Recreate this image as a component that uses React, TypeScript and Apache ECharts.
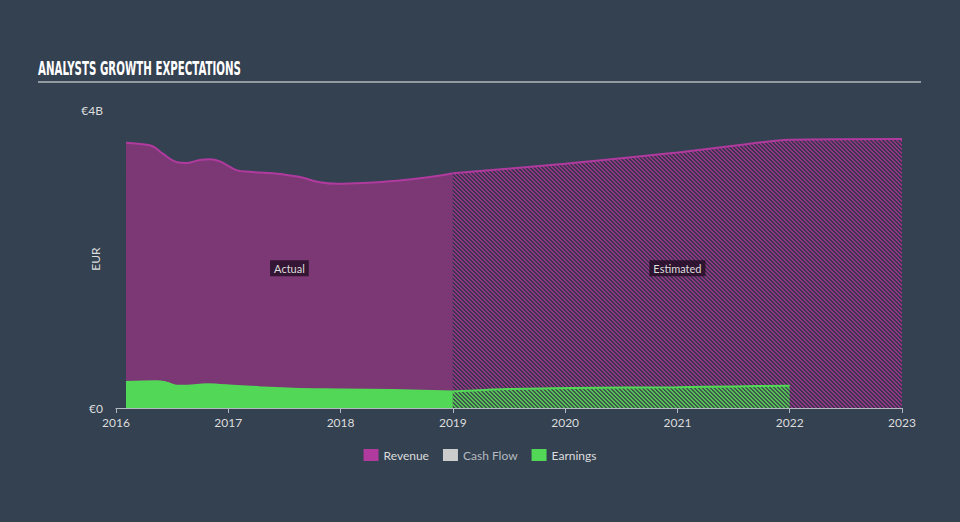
import React, { useEffect, useRef } from 'react';
import * as echarts from 'echarts';

// Values in billions of EUR, x in decimal years
const revenueActual: [number, number][] = [
  [2016.089, 3.56], [2016.24, 3.54], [2016.33, 3.51], [2016.419, 3.41], [2016.543, 3.3],
  [2016.632, 3.29], [2016.748, 3.33], [2016.837, 3.34], [2016.926, 3.31], [2017.078, 3.19],
  [2017.193, 3.17], [2017.461, 3.14], [2017.55, 3.12], [2017.639, 3.1], [2017.817, 3.03],
  [2017.968, 3.01], [2018.2, 3.02], [2018.502, 3.05], [2018.796, 3.1], [2019.0, 3.15],
];
const revenueEstimated: [number, number][] = [
  [2019.0, 3.15], [2020.0, 3.28], [2021.0, 3.43], [2021.5, 3.52], [2022.0, 3.6], [2023.0, 3.61],
];
const earningsActual: [number, number][] = [
  [2016.089, 0.35], [2016.362, 0.36], [2016.451, 0.34], [2016.541, 0.3], [2016.63, 0.3],
  [2016.808, 0.32], [2016.926, 0.31], [2017.042, 0.3], [2017.282, 0.28], [2017.576, 0.26],
  [2018.021, 0.25], [2018.467, 0.24], [2019.0, 0.22],
];
const earningsEstimated: [number, number][] = [
  [2019.0, 0.22], [2019.48, 0.255], [2020.07, 0.27], [2021.0, 0.28], [2021.5, 0.29], [2022.0, 0.3],
];
const cashFlow: [number, number][] = [];
const legendNames = ['Revenue', 'Cash Flow', 'Earnings'];
const periodLabels = ['Actual', 'Estimated'];
const actualStart = 2016.089;
const estimateStart = 2019.0;
const estimateEnd = 2023.0;

function makePattern(stripe: number[], gap: number[]): string {
  const n = 4;
  const c = document.createElement('canvas');
  c.width = n;
  c.height = n;
  const ctx = c.getContext('2d')!;
  const img = ctx.createImageData(n, n);
  for (let y = 0; y < n; y++) {
    for (let x = 0; x < n; x++) {
      const k = (((x - y) % n) + n) % n;
      const col = k < 2 ? stripe : gap;
      const i = (y * n + x) * 4;
      img.data[i] = col[0];
      img.data[i + 1] = col[1];
      img.data[i + 2] = col[2];
      img.data[i + 3] = 255;
    }
  }
  ctx.putImageData(img, 0, 0);
  return c.toDataURL();
}

export default function App() {
  const ref = useRef<HTMLDivElement>(null);
  useEffect(() => {
    if (!ref.current) return;
    const chart = echarts.init(ref.current, undefined, { renderer: 'svg' });
    const revPattern = makePattern([142, 54, 132], [62, 52, 80]);
    const earnPattern = makePattern([84, 196, 86], [62, 86, 76]);
    const font = 'Lato, "Open Sans", sans-serif';
    const labelStyle = {
      show: true,
      position: 'inside' as const,
      color: '#dddddd',
      fontSize: 11,
      fontFamily: font,
      backgroundColor: 'rgba(28,10,30,0.75)',
      padding: [3, 4, 2, 4],
    };
    chart.setOption({
      animation: false,
      backgroundColor: '#334151',
      graphic: [
        {
          type: 'text',
          x: 38,
          y: 59,
          scaleX: 0.6,
          style: {
            text: 'ANALYSTS GROWTH EXPECTATIONS',
            fill: '#ffffff',
            font: 'bold 19px "Liberation Sans Narrow", "DejaVu Sans Condensed", sans-serif',
          },
        },
        {
          type: 'line',
          shape: { x1: 38, y1: 82, x2: 921, y2: 82 },
          style: { stroke: '#b4b8bd', lineWidth: 1.5 },
        },
      ],
      grid: { left: 116, right: 58, top: 110, bottom: 114 },
      legend: {
        left: 'center',
        top: 444,
        icon: 'rect',
        itemWidth: 15,
        itemHeight: 12,
        itemGap: 14,
        textStyle: { color: '#dddddd', fontSize: 12, fontFamily: font },
        data: [
          { name: legendNames[0] },
          { name: legendNames[1], textStyle: { color: '#b5b9bf' } },
          { name: legendNames[2] },
        ],
      },
      xAxis: {
        type: 'value',
        min: 2016,
        max: 2023,
        interval: 1,
        axisLine: { show: true, lineStyle: { color: '#b4b8c0', width: 1 } },
        axisTick: { show: true, length: 5, lineStyle: { color: '#b4b8c0' } },
        axisLabel: { color: '#dddddd', fontSize: 12, fontFamily: font, margin: 8, formatter: (v: number) => String(v) },
        splitLine: { show: false },
      },
      yAxis: {
        type: 'value',
        min: 0,
        max: 4,
        interval: 4,
        name: 'EUR',
        nameLocation: 'middle',
        nameRotate: 90,
        nameGap: 15,
        nameMoveOverlap: false,
        nameTextStyle: { color: '#dddddd', fontSize: 12, fontFamily: font },
        axisLine: { show: false },
        axisTick: { show: false },
        splitLine: { show: false },
        axisLabel: {
          color: '#dddddd',
          fontSize: 12,
          fontFamily: font,
          margin: 13,
          formatter: (v: number) => (v === 0 ? '€0' : `€${v}B`),
        },
      },
      series: [
        {
          name: legendNames[0],
          type: 'line',
          smooth: 0.4,
          showSymbol: false,
          data: revenueActual,
          itemStyle: { color: '#b03a9e' },
          lineStyle: { color: '#b03a9e', width: 2 },
          areaStyle: { color: '#7b3875', opacity: 1 },
          z: 1,
          markArea: {
            silent: true,
            itemStyle: { color: 'transparent' },
            label: labelStyle,
            data: [
              [
                { name: periodLabels[0], xAxis: actualStart, yAxis: 0 },
                { xAxis: estimateStart, yAxis: 3.75 },
              ],
              [
                { name: periodLabels[1], xAxis: estimateStart, yAxis: 0 },
                { xAxis: estimateEnd, yAxis: 3.75 },
              ],
            ],
          },
        },
        {
          name: legendNames[0],
          type: 'line',
          smooth: 0.3,
          showSymbol: false,
          data: revenueEstimated,
          itemStyle: { color: '#b03a9e' },
          lineStyle: { color: '#b03a9e', width: 2 },
          areaStyle: {
            color: { image: revPattern, repeat: 'repeat', imageWidth: 4, imageHeight: 4 },
            opacity: 1,
          },
          z: 1,
        },
        {
          name: legendNames[1],
          type: 'line',
          data: cashFlow,
          itemStyle: { color: '#cccccc' },
        },
        {
          name: legendNames[2],
          type: 'line',
          smooth: 0.4,
          showSymbol: false,
          data: earningsActual,
          itemStyle: { color: '#52d757' },
          lineStyle: { color: '#52d757', width: 2 },
          areaStyle: { color: '#52d757', opacity: 1 },
          z: 2,
        },
        {
          name: legendNames[2],
          type: 'line',
          smooth: 0.3,
          showSymbol: false,
          data: earningsEstimated,
          itemStyle: { color: '#52d757' },
          lineStyle: { color: '#52d757', width: 2 },
          areaStyle: {
            color: { image: earnPattern, repeat: 'repeat', imageWidth: 4, imageHeight: 4 },
            opacity: 1,
          },
          z: 2,
        },
      ],
    });
    return () => chart.dispose();
  }, []);
  return (
    <div
      ref={ref}
      style={{ position: 'absolute', left: 0, top: 0, width: 960, height: 522 }}
    />
  );
}
